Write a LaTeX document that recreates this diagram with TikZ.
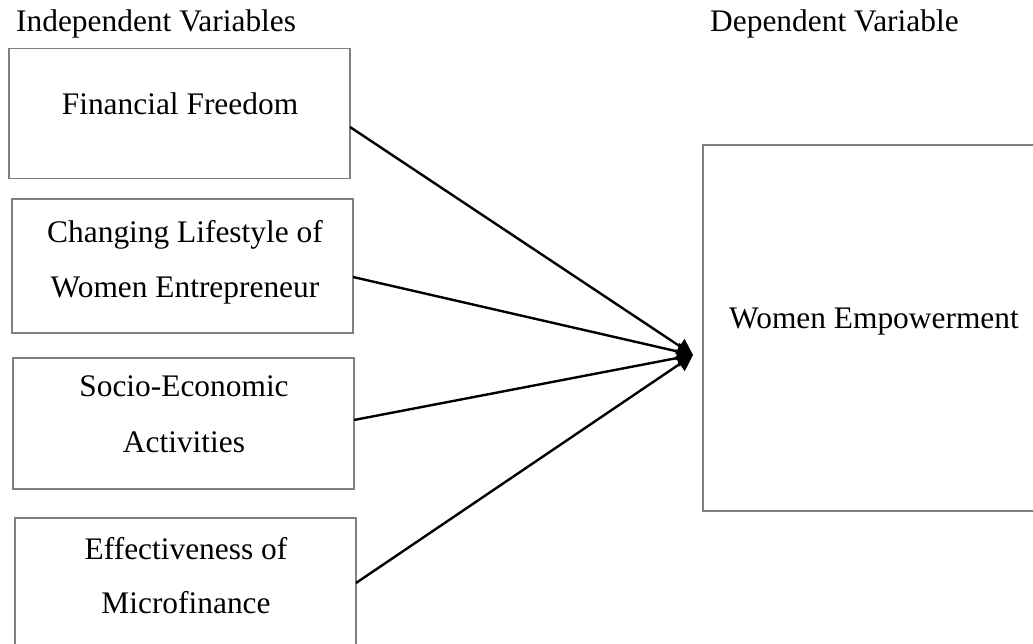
\documentclass[tikz,border=0pt]{standalone}
\usepackage{fontspec}
\setmainfont{Liberation Serif}
\usetikzlibrary{arrows.meta}
\begin{document}
\begin{tikzpicture}[x=1pt,y=-1pt,
  box/.style={draw=black!50,line width=1.8pt,inner sep=0pt,outer sep=0pt},
  txt/.style={anchor=base,inner sep=0pt,font=\fontsize{31.4}{36}\selectfont},
  conn/.style={line width=2.4pt,-{Triangle[length=16pt,width=17pt]}}]
\useasboundingbox (0,0) rectangle (1033,644);
\clip (0,0) rectangle (1033,644);
\node[txt,anchor=base west] (hi) at (16,32) {Independent Variables};
\node[txt,anchor=base west] (hd) at (710,32) {Dependent Variable};
\node[box,minimum width=341pt,minimum height=130pt] (b1) at (179.5,113.5) {};
\node[box,minimum width=341pt,minimum height=134pt] (b2) at (182.5,266) {};
\node[box,minimum width=341pt,minimum height=131pt] (b3) at (183.5,423.5) {};
\node[box,minimum width=341pt,minimum height=140pt] (b4) at (185.5,588) {};
\node[box,minimum width=340pt,minimum height=366pt] (r) at (873,328) {};
\node[txt] (t1) at (180,115) {Financial Freedom};
\node[txt] (t2a) at (185,243) {Changing Lifestyle of};
\node[txt] (t2b) at (185,298) {Women Entrepreneur};
\node[txt] (t3a) at (184,396) {Socio-Economic};
\node[txt] (t3b) at (184,452) {Activities};
\node[txt] (t4a) at (186,559) {Effectiveness of};
\node[txt] (t4b) at (186,613) {Microfinance};
\node[txt] (tr) at (874,328) {Women Empowerment};
\coordinate (tip) at (693,355);
\draw[conn] ([yshift=-13.5pt]b1.east) -- (tip);
\draw[conn] ([yshift=-11pt]b2.east) -- (tip);
\draw[conn] ([yshift=3.5pt]b3.east) -- (tip);
\draw[conn] ([yshift=5pt]b4.east) -- (tip);
\end{tikzpicture}
\end{document}
